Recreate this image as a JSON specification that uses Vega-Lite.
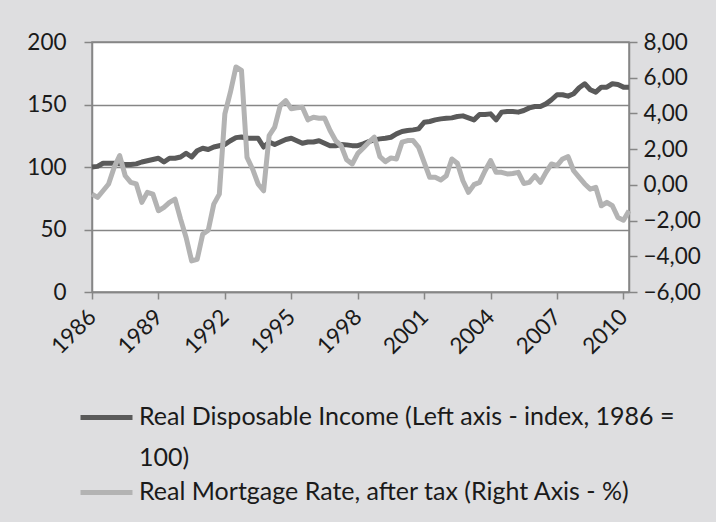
{
  "$schema": "https://vega.github.io/schema/vega-lite/v6.json",
  "width": 537,
  "height": 250,
  "autosize": "none",
  "padding": {"left": 92, "top": 42, "right": 87, "bottom": 230},
  "background": "#DEDEE0",
  "config": {
    "font": "Lato",
    "view": {"stroke": "#868686", "strokeWidth": 1.5, "fill": "white"},
    "axis": {"labelFont": "Lato", "labelFontSize": 22.5, "labelColor": "#1a1a1a", "domainColor": "#868686", "tickColor": "#868686", "domainWidth": 1.5, "tickWidth": 1.5},
    "style": {"guide-label": {"lineHeight": 41}}
  },
  "data": {"values": [
    {"t":1986.00,"inc":100,"rate":-0.52},{"t":1986.25,"inc":100.5,"rate":-0.70},{"t":1986.50,"inc":103,"rate":-0.33},{"t":1986.75,"inc":103,"rate":0.05},
    {"t":1987.00,"inc":103,"rate":0.98},{"t":1987.25,"inc":102.5,"rate":1.64},{"t":1987.50,"inc":102,"rate":0.51},{"t":1987.75,"inc":102,"rate":0.14},
    {"t":1988.00,"inc":102.5,"rate":0.05},{"t":1988.25,"inc":104,"rate":-0.98},{"t":1988.50,"inc":105,"rate":-0.42},{"t":1988.75,"inc":106,"rate":-0.52},
    {"t":1989.00,"inc":107,"rate":-1.45},{"t":1989.25,"inc":104,"rate":-1.26},{"t":1989.50,"inc":107,"rate":-0.98},{"t":1989.75,"inc":107,"rate":-0.80},
    {"t":1990.00,"inc":108,"rate":-1.92},{"t":1990.25,"inc":111,"rate":-2.95},{"t":1990.50,"inc":108,"rate":-4.26},{"t":1990.75,"inc":113,"rate":-4.17},
    {"t":1991.00,"inc":115,"rate":-2.76},{"t":1991.25,"inc":114,"rate":-2.54},{"t":1991.50,"inc":116,"rate":-1.08},{"t":1991.75,"inc":117,"rate":-0.52},
    {"t":1992.00,"inc":118,"rate":3.98},{"t":1992.25,"inc":121,"rate":5.19},{"t":1992.50,"inc":123.5,"rate":6.60},{"t":1992.75,"inc":124,"rate":6.41},
    {"t":1993.00,"inc":123,"rate":1.54},{"t":1993.25,"inc":123,"rate":0.89},{"t":1993.50,"inc":123,"rate":0.05},{"t":1993.75,"inc":116,"rate":-0.33},
    {"t":1994.00,"inc":120,"rate":2.76},{"t":1994.25,"inc":118,"rate":3.23},{"t":1994.50,"inc":120,"rate":4.44},{"t":1994.75,"inc":122,"rate":4.72},
    {"t":1995.00,"inc":123,"rate":4.26},{"t":1995.25,"inc":121,"rate":4.31},{"t":1995.50,"inc":119,"rate":4.35},{"t":1995.75,"inc":120,"rate":3.64},
    {"t":1996.00,"inc":120,"rate":3.79},{"t":1996.25,"inc":121,"rate":3.73},{"t":1996.50,"inc":119,"rate":3.75},{"t":1996.75,"inc":117,"rate":3.04},
    {"t":1997.00,"inc":117,"rate":2.48},{"t":1997.25,"inc":118,"rate":2.20},{"t":1997.50,"inc":117.7,"rate":1.40},{"t":1997.75,"inc":117.1,"rate":1.17},
    {"t":1998.00,"inc":117.1,"rate":1.75},{"t":1998.25,"inc":118.5,"rate":2.07},{"t":1998.50,"inc":120.3,"rate":2.39},{"t":1998.75,"inc":121.7,"rate":2.67},
    {"t":1999.00,"inc":122.5,"rate":1.58},{"t":1999.25,"inc":123,"rate":1.30},{"t":1999.50,"inc":123.8,"rate":1.51},{"t":1999.75,"inc":126.5,"rate":1.45},
    {"t":2000.00,"inc":128.4,"rate":2.39},{"t":2000.25,"inc":129.2,"rate":2.48},{"t":2000.50,"inc":129.7,"rate":2.48},{"t":2000.75,"inc":130.5,"rate":2.10},
    {"t":2001.00,"inc":135.8,"rate":1.26},{"t":2001.25,"inc":136.4,"rate":0.42},{"t":2001.50,"inc":137.7,"rate":0.42},{"t":2001.75,"inc":138.5,"rate":0.27},
    {"t":2002.00,"inc":139,"rate":0.51},{"t":2002.25,"inc":139.3,"rate":1.45},{"t":2002.50,"inc":140.4,"rate":1.21},{"t":2002.75,"inc":140.9,"rate":0.23},
    {"t":2003.00,"inc":139.3,"rate":-0.42},{"t":2003.25,"inc":137.7,"rate":0.01},{"t":2003.50,"inc":142,"rate":0.14},{"t":2003.75,"inc":142,"rate":0.79},
    {"t":2004.00,"inc":142.5,"rate":1.36},{"t":2004.25,"inc":137.7,"rate":0.70},{"t":2004.50,"inc":143.9,"rate":0.70},{"t":2004.75,"inc":144.4,"rate":0.61},
    {"t":2005.00,"inc":144.4,"rate":0.64},{"t":2005.25,"inc":143.9,"rate":0.70},{"t":2005.50,"inc":145.2,"rate":0.08},{"t":2005.75,"inc":147.3,"rate":0.14},
    {"t":2006.00,"inc":148.4,"rate":0.51},{"t":2006.25,"inc":148.4,"rate":0.14},{"t":2006.50,"inc":150.5,"rate":0.70},{"t":2006.75,"inc":153.8,"rate":1.17},
    {"t":2007.00,"inc":157.8,"rate":1.08},{"t":2007.25,"inc":157.8,"rate":1.45},{"t":2007.50,"inc":156.7,"rate":1.58},{"t":2007.75,"inc":158.6,"rate":0.79},
    {"t":2008.00,"inc":163.4,"rate":0.42},{"t":2008.25,"inc":166.6,"rate":0.05},{"t":2008.50,"inc":161.8,"rate":-0.24},{"t":2008.75,"inc":159.9,"rate":-0.14},
    {"t":2009.00,"inc":163.9,"rate":-1.17},{"t":2009.25,"inc":163.9,"rate":-0.98},{"t":2009.50,"inc":166.6,"rate":-1.17},{"t":2009.75,"inc":166,"rate":-1.83},
    {"t":2010.00,"inc":163.9,"rate":-1.98},{"t":2010.25,"inc":163.9,"rate":-1.45}
  ]},
  "encoding": {
    "x": {"field": "t", "type": "quantitative",
      "scale": {"domain": [1986, 2010.25], "nice": false, "zero": false},
      "axis": {"values": [1986,1989,1992,1995,1998,2001,2004,2007,2010], "format": "d", "labelAngle": -45, "labelAlign": "right", "labelBaseline": "middle", "labelPadding": 14, "tickSize": 7, "grid": false, "title": null, "labelFlush": false, "labelOverlap": false}}
  },
  "layer": [
    {
      "mark": {"type": "line", "strokeWidth": 5, "strokeJoin": "round"},
      "encoding": {
        "y": {"field": "inc", "type": "quantitative",
          "scale": {"domain": [0, 200], "nice": false},
          "axis": {"values": [0,50,100,150,200], "grid": true, "gridColor": "#868686", "gridWidth": 1.5, "tickSize": 8, "labelPadding": 18, "title": null, "domain": true}},
        "color": {"datum": "Real Disposable Income (Left axis - index, 1986 = 100)", "type": "nominal",
          "scale": {"domain": ["Real Disposable Income (Left axis - index, 1986 = 100)", "Real Mortgage Rate, after tax (Right Axis - %)"], "range": ["#5A5A5A", "#B3B3B3"]},
          "legend": {"orient": "none", "legendX": -14, "legendY": 354, "direction": "vertical", "title": null,
            "symbolType": "M-1,-0.27L1,-0.27", "symbolSize": 2704, "symbolStrokeWidth": 5,
            "labelFontSize": 25, "labelFont": "Lato", "labelColor": "#1a1a1a", "labelLimit": 1000, "labelOffset": 4, "rowPadding": -6, "labelBaseline": "alphabetic",
            "labelExpr": "datum.label == 'Real Disposable Income (Left axis - index, 1986 = 100)' ? ['Real Disposable Income (Left axis - index, 1986 =', '100)'] : datum.label"}}
      }
    },
    {
      "mark": {"type": "line", "strokeWidth": 5, "strokeJoin": "round"},
      "encoding": {
        "y": {"field": "rate", "type": "quantitative",
          "scale": {"domain": [-6, 8], "nice": false, "zero": false},
          "axis": {"orient": "right", "values": [-6,-4,-2,0,2,4,6,8], "grid": false, "tickSize": 8, "labelPadding": 6, "title": null,
            "labelExpr": "replace(format(datum.value, '.2f'), '.', ',')"}},
        "color": {"datum": "Real Mortgage Rate, after tax (Right Axis - %)", "type": "nominal"}
      }
    }
  ],
  "resolve": {"scale": {"y": "independent"}}
}
